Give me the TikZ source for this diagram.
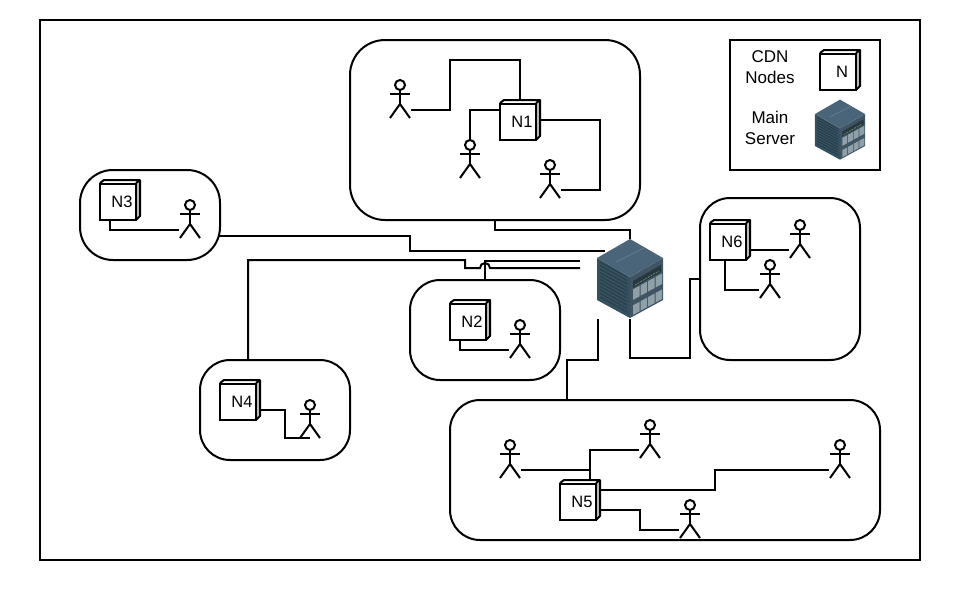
\documentclass[tikz,border=0pt]{standalone}
\usepackage{fontspec}
\setmainfont{Liberation Sans}
\definecolor{srvtop}{HTML}{4A6479}
\definecolor{srvleft}{HTML}{35505F}
\definecolor{srvright}{HTML}{3F5563}
\definecolor{srvpanel}{HTML}{8FA0A8}
\tikzset{
  ln/.style={line width=2pt,black},
  region/.style={draw,line width=2pt,rounded corners=#1},
  region/.default=35pt,
  holder/.style={inner sep=0pt,outer sep=0pt,minimum width=#1},
  lab/.style={font=\fontsize{16.5pt}{18pt}\selectfont,inner sep=0pt},
  legtext/.style={font=\fontsize{17pt}{21pt}\selectfont,align=center,inner sep=0pt}
}
% name, x, y of head centre
\newcommand{\stickman}[3]{%
  \node[holder=20pt,minimum height=38pt] (#1) at (#2,#3+14) {};
  \coordinate (#1-l) at (#2-11,#3+25);
  \coordinate (#1-r) at (#2+11,#3+25);
  \coordinate (#1-b) at (#2,#3+33);
  \draw[ln] (#2,#3) circle (5pt);
  \draw[ln] (#2-10,#3+9) -- (#2+10,#3+9);
  \draw[ln] (#2,#3+5) -- (#2,#3+19);
  \draw[ln] (#2-10,#3+33) -- (#2,#3+19) -- (#2+10,#3+33);
}
% name, left, top of the outer 40x40 box, label
\newcommand{\cubebox}[4]{%
  \node[holder=40pt,minimum height=40pt] (#1) at (#2+20,#3+20) {};
  \fill[gray!55] (#2+36,#3+3) -- (#2+40,#3) -- (#2+40,#3+36) -- (#2+36,#3+40) -- cycle;
  \draw[ln,line join=round] (#2,#3+3) -- (#2+4,#3) -- (#2+40,#3) -- (#2+40,#3+36) -- (#2+36,#3+40);
  \draw[ln] (#2+36,#3+3) -- (#2+40,#3);
  \draw[ln,fill=white] (#2,#3+3.5) rectangle (#2+36,#3+40);
  \node[lab] at (#2+22,#3+22) {#4};
}
% name, centre x, centre y, scale
\newcommand{\serverbox}[4]{%
  \node[holder=#4*66pt,minimum height=#4*80pt] (#1) at (#2,#3) {};
  \begin{scope}[shift={(#2,#3)},scale=#4]
    \fill[srvleft] (-33,-21) -- (0,-2) -- (0,39) -- (-33,21) -- cycle;
    \foreach \k in {-17,-13.5,...,20} \draw[black!30!srvleft,line width=.6pt] (-30,\k) -- (-3,\k+15);
    \fill[srvright] (33,-21) -- (0,-2) -- (0,39) -- (33,21) -- cycle;
    \fill[srvtop] (0,-40) -- (33,-21) -- (0,-2) -- (-33,-21) -- cycle;
    \draw[srvtop!85!white,line width=.8pt] (-14,-17) -- (14,-31);
    \fill[black!35!srvright] (3,2) -- (31,-14) -- (31,-7) -- (3,9) -- cycle;
    \draw[gray!80!green,line width=.7pt,dashed,dash pattern=on 2pt off 1pt] (5,6) -- (29,-8);
    \foreach \a in {3,10.5,18,25.5}{
      \fill[srvpanel] (\a,11-\a*.55+1) -- (\a+6.5,11-\a*.55-2.5) -- (\a+6.5,11-\a*.55+8) -- (\a,11-\a*.55+11.5) -- cycle;
      \fill[srvpanel] (\a,27-\a*.55+1) -- (\a+6.5,27-\a*.55-2.5) -- (\a+6.5,27-\a*.55+7) -- (\a,27-\a*.55+10.5) -- cycle;
    }
  \end{scope}
}
\begin{document}
\begin{tikzpicture}[x=1pt,y=-1pt]
\useasboundingbox (0,0) rectangle (960,600);
\fill[white] (0,0) rectangle (960,600);
\node[draw,line width=2pt,minimum width=880pt,minimum height=540pt,inner sep=0pt] (frame) at (480,290) {};
\node[draw,line width=2pt,minimum width=150pt,minimum height=130pt,inner sep=0pt] (legend) at (805,105) {};
% regions
\node[draw,region,minimum width=290pt,minimum height=180pt] (r1) at (495,130) {};
\node[draw,region=33pt,minimum width=140pt,minimum height=90pt] (r3) at (150,215) {};
\node[draw,region=30pt,minimum width=150pt,minimum height=100pt] (r2) at (485,330) {};
\node[draw,region=30pt,minimum width=150pt,minimum height=100pt] (r4) at (275,410) {};
\node[draw,region=30pt,minimum width=160pt,minimum height=162pt] (r6) at (780,279) {};
\node[draw,region=30pt,minimum width=430pt,minimum height=140pt] (r5) at (665,470) {};
% server
\serverbox{srv}{630}{279}{1}
% cubes
\cubebox{n1}{500}{100}{N1}
\cubebox{n2}{450}{300}{N2}
\cubebox{n3}{100}{180}{N3}
\cubebox{n4}{220}{380}{N4}
\cubebox{n5}{560}{480}{N5}
\cubebox{n6}{710}{220}{N6}
% people
\stickman{a1}{400}{85}
\stickman{a2}{470}{145}
\stickman{a3}{550}{165}
\stickman{b1}{190}{205}
\stickman{c1}{520}{325}
\stickman{d1}{310}{405}
\stickman{e1}{510}{445}
\stickman{e2}{650}{425}
\stickman{e3}{840}{445}
\stickman{e4}{690}{505}
\stickman{f1}{800}{225}
\stickman{f2}{770}{265}
% links inside regions
\draw[ln] (a1-r) -- (450,110) -- (450,60) -- (520,60) -- (n1.north);
\draw[ln] (a2) ++(0,-19) -- (470,110) -- ([yshift=10pt]n1.west);
\draw[ln] (n1.east) -- (600,120) -- (600,190) -- (a3-r);
\draw[ln] ([xshift=-10pt]n3.south) -- (110,230) -- (b1-l);
\draw[ln] ([xshift=-10pt]n2.south) -- (460,350) -- (c1-l);
\draw[ln] ([yshift=-10pt]n4.east) -- (285,410) -- (285,438) -- (d1-b);
\draw[ln] (e1-r) -- (590,470);
\draw[ln] (e2-l) -- (590,450) -- ([xshift=10pt]n5.north);
\draw[ln] ([yshift=10pt]n5.east) -- (715,490) -- (715,470) -- (e3-l);
\draw[ln] ([yshift=-10pt]n5.east) -- (640,510) -- (640,530) -- (e4-l);
\draw[ln] ([yshift=-10pt]n6.east) -- (f1-l);
\draw[ln] ([xshift=-5pt]n6.south) -- (725,290) -- (f2-l);
% links to the server
\draw[ln] (r1.south) -- (495,230) -- (630,230) -- (srv.north);
\draw[ln] ([yshift=-21pt,xshift=-2pt]r3.east) -- (410,236) -- (410,251) -- ([yshift=28pt,xshift=8pt]srv.west);
\draw[ln] (248,360) -- (248,260) -- (465,260) -- (465,268) -- (480,268) arc[start angle=180,end angle=0,radius=5pt] -- ([yshift=11pt,xshift=-17pt]srv.west);
\draw[ln] (r2.north) -- (485,261) -- ([yshift=18pt,xshift=-17pt]srv.west);
\draw[ln] ([xshift=-32pt]srv.south) -- (598,360) -- (567,360) -- (567,400);
\draw[ln] (srv.south) -- (630,358) -- (690,358) -- (690,279) -- (r6.west);
% legend
\node[legtext] (t1) at (770,67.5) {CDN\\Nodes};
\node[legtext] (t2) at (770,127.5) {Main\\Server};
\cubebox{lgn}{820}{50}{N}
\serverbox{lgs}{840}{130}{0.76}
\end{tikzpicture}
\end{document}
